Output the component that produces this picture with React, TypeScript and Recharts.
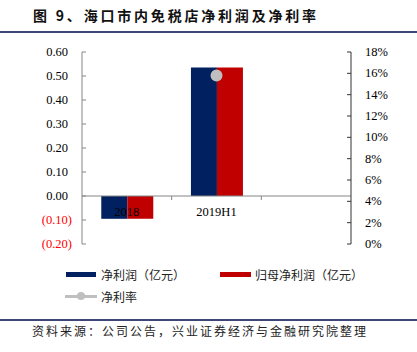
import React from 'react';
import { ComposedChart, Bar, Line, XAxis, YAxis, ReferenceLine } from 'recharts';

const categories = ['2018', '2019H1', ''];
const netProfit = [-0.095, 0.535, null];
const parentNetProfit = [-0.095, 0.535, null];
const netMargin = [null, 0.158, null];
const leftTicks = [-0.2, -0.1, 0, 0.1, 0.2, 0.3, 0.4, 0.5, 0.6];
const rightTicks = [0, 0.02, 0.04, 0.06, 0.08, 0.1, 0.12, 0.14, 0.16, 0.18];
const seriesNames = ['净利润（亿元）', '归母净利润（亿元）', '净利率'];
const titleText = '图 9、海口市内免税店净利润及净利率';
const sourceText = '资料来源：公司公告，兴业证券经济与金融研究院整理';

const data = categories.map((c, i) => ({
  cat: c,
  np: netProfit[i],
  pnp: parentNetProfit[i],
  nm: netMargin[i],
}));

const NAVY = '#002060';
const RED = '#C00000';
const GREY = '#BFBFBF';
const SERIF = '"Liberation Serif", "Times New Roman", serif';
const CJK = '"Noto Sans CJK SC", sans-serif';

const LeftTick = (props: any) => {
  const { x, y, payload } = props;
  const v = payload.value as number;
  const neg = v < -1e-9;
  const label = neg ? `(${Math.abs(v).toFixed(2)})` : Math.abs(v).toFixed(2);
  return (
    <g>
      <line x1={x} x2={x + 4} y1={y} y2={y} stroke="#868686" />
      <text x={neg ? x - 10 : x - 14} y={y} dy={4} textAnchor="end" fill={neg ? '#FF0000' : '#000'} fontSize={12.5} fontFamily={SERIF}>
        {label}
      </text>
    </g>
  );
};

const RightTick = (props: any) => {
  const { x, y, payload } = props;
  const v = payload.value as number;
  return (
    <g>
      <line x1={x - 4} x2={x} y1={y} y2={y} stroke="#333" />
      <text x={x + 14} y={y} dy={4} textAnchor="start" fill="#000" fontSize={12.5} fontFamily={SERIF}>
        {`${Math.round(v * 100)}%`}
      </text>
    </g>
  );
};

const CatTick = (props: any) => {
  const { x, y, payload, width, visibleTicksCount, index } = props;
  const half = width && visibleTicksCount ? width / visibleTicksCount / 2 : 0;
  return (
    <g>
      {half > 0 && index < visibleTicksCount - 1 ? (
        <line x1={x + half} x2={x + half} y1={y - 48} y2={y - 44} stroke="#868686" />
      ) : null}
      <text x={x} y={y - 28} textAnchor="middle" fill="#000" fontSize={12.5} fontFamily={SERIF}>
        {payload.value}
      </text>
    </g>
  );
};

export default function App() {
  return (
    <div style={{ position: 'absolute', left: 0, top: 0, width: 417, height: 352, background: '#fff', overflow: 'hidden' }}>
      <div style={{ position: 'absolute', left: 33, top: 6, fontFamily: CJK, fontWeight: 700, fontSize: 14, letterSpacing: 2.8, color: '#111', whiteSpace: 'nowrap', lineHeight: '18px' }}>
        {titleText}
      </div>
      <div style={{ position: 'absolute', left: 0, top: 31, width: 417, height: 2, background: '#3d4677' }} />
      <div style={{ position: 'absolute', left: 0, top: 0 }}>
        <ComposedChart width={417} height={352} data={data} margin={{ top: 52, right: 0, left: 0, bottom: 107 }} barGap={0} barCategoryGap="21.5%">
          <XAxis dataKey="cat" xAxisId="x" height={1} axisLine={false} tickLine={false} tickSize={0} tickMargin={0} interval={0} tick={<CatTick />} />
          <YAxis yAxisId="left" orientation="left" width={82} domain={[-0.2, 0.6]} ticks={leftTicks} axisLine={{ stroke: '#868686' }} tickLine={false} tickSize={0} tickMargin={0} tick={<LeftTick />} interval={0} />
          <YAxis yAxisId="right" orientation="right" width={66} domain={[0, 0.18]} ticks={rightTicks} axisLine={{ stroke: '#333' }} tickLine={false} tickSize={0} tickMargin={0} tick={<RightTick />} interval={0} />
          <ReferenceLine yAxisId="left" xAxisId="x" y={0} stroke="#868686" />
          <Bar xAxisId="x" yAxisId="left" dataKey="np" name={seriesNames[0]} fill={NAVY} isAnimationActive={false} />
          <Bar xAxisId="x" yAxisId="left" dataKey="pnp" name={seriesNames[1]} fill={RED} isAnimationActive={false} />
          <Line xAxisId="x" yAxisId="right" dataKey="nm" name={seriesNames[2]} stroke={GREY} strokeWidth={3} dot={{ r: 4.5, fill: GREY, stroke: GREY }} connectNulls={false} isAnimationActive={false} />
        </ComposedChart>
      </div>
      {/* legend */}
      <div style={{ position: 'absolute', left: 66, top: 266, fontFamily: CJK, fontSize: 12, color: '#222', whiteSpace: 'nowrap' }}>
        <div style={{ display: 'flex', alignItems: 'center', height: 16 }}>
          <span style={{ display: 'inline-block', width: 30, height: 5, background: NAVY, marginRight: 5 }} />
          <span style={{ width: 119 }}>{seriesNames[0]}</span>
          <span style={{ display: 'inline-block', width: 31, height: 5, background: RED, marginRight: 4 }} />
          <span>{seriesNames[1]}</span>
        </div>
        <div style={{ display: 'flex', alignItems: 'center', height: 16, marginTop: 6, marginLeft: -1 }}>
          <span style={{ position: 'relative', display: 'inline-block', width: 32, height: 3, background: GREY, marginRight: 4 }}>
            <span style={{ position: 'absolute', left: 12, top: -2.5, width: 8, height: 8, borderRadius: 4, background: GREY }} />
          </span>
          <span>{seriesNames[2]}</span>
        </div>
      </div>
      <div style={{ position: 'absolute', left: 0, top: 319, width: 417, height: 2, background: '#3d4677' }} />
      <div style={{ position: 'absolute', left: 32, top: 323, fontFamily: CJK, fontSize: 12, letterSpacing: 2, color: '#222', whiteSpace: 'nowrap', lineHeight: '16px' }}>
        {sourceText}
      </div>
    </div>
  );
}
